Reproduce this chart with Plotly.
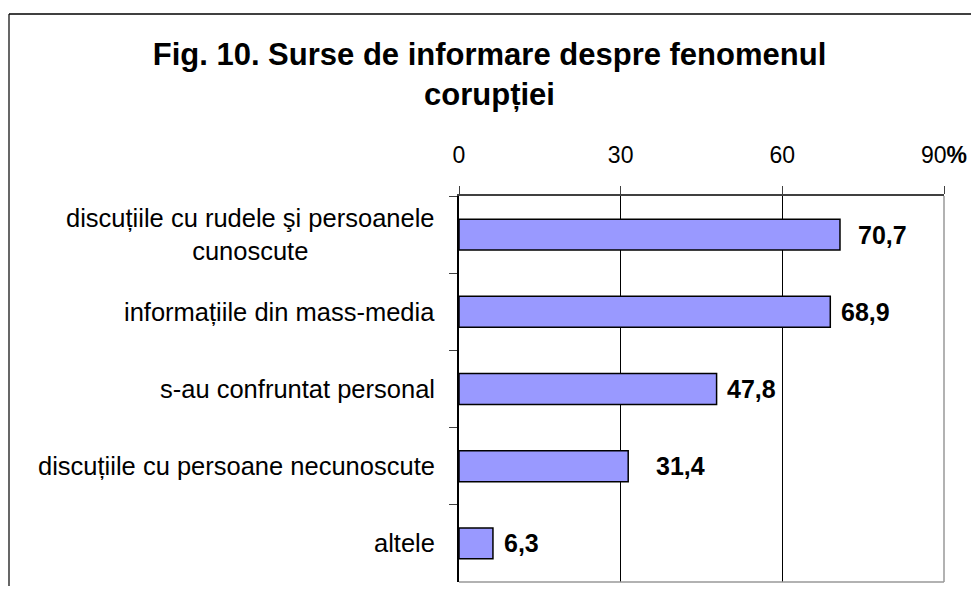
import plotly.graph_objects as go

categories = [
    "discuțiile cu rudele şi persoanele<br>cunoscute",
    "informațiile din mass-media",
    "s-au confruntat personal",
    "discuțiile cu persoane necunoscute",
    "altele",
]
values = [70.7, 68.9, 47.8, 31.4, 6.3]
value_labels = ["70,7", "68,9", "47,8", "31,4", "6,3"]
x_ticks = [0, 30, 60, 90]
x_tick_labels = ["0", "30", "60", "90<b>%</b>"]
title_text = "Fig. 10. Surse de informare despre fenomenul<br>corupției"

# page has an 8px body margin on every side; keep the figure inside the window
W, H = 963, 578
L, R, T, B = 451, 27, 188, 4
PW, PH = W - L - R, H - T - B
FONT = "Liberation Sans, Arial, sans-serif"


def px_x(p):
    return (p - L) / PW


def px_y(p):
    return (H - B - p) / PH


ids = list(range(len(categories)))

fig = go.Figure(
    go.Bar(
        x=values,
        y=ids,
        orientation="h",
        marker=dict(color="#9999FF", line=dict(color="black", width=1.5)),
        hoverinfo="skip",
    )
)

label_shift = [16, 9, 8, 26, 9]
annotations = []
for i, (v, t) in enumerate(zip(values, value_labels)):
    annotations.append(dict(
        x=v, y=i, xref="x", yref="y", text=t, showarrow=False,
        xanchor="left", xshift=label_shift[i],
        font=dict(family=FONT, size=25, color="black", weight="bold"),
    ))
for i, c in enumerate(categories):
    annotations.append(dict(
        x=0, y=i, xref="paper", yref="y", text=c, showarrow=False,
        xanchor="right", xshift=-22, align="center",
        font=dict(family=FONT, size=25.5, color="black"),
    ))

shapes = [
    # outer frame
    dict(type="line", xref="paper", yref="paper", x0=px_x(1), x1=px_x(W + 5),
         y0=px_y(6), y1=px_y(6), line=dict(color="#404040", width=2)),
    dict(type="line", xref="paper", yref="paper", x0=px_x(1), x1=px_x(1),
         y0=px_y(6), y1=px_y(H + 5), line=dict(color="black", width=1.2)),
    # plot-area right and bottom lines
    dict(type="line", xref="paper", yref="paper", x0=1, x1=1, y0=0, y1=1,
         line=dict(color="#999999", width=1.5), layer="above"),
    dict(type="line", xref="paper", yref="paper", x0=0, x1=1, y0=0, y1=0,
         line=dict(color="#999999", width=1.5), layer="above"),
]

fig.update_layout(
    width=W, height=H,
    margin=dict(l=L, r=R, t=T, b=B, pad=0),
    paper_bgcolor="white", plot_bgcolor="white",
    showlegend=False,
    bargap=0.6,
    title=dict(text=title_text, x=(489.5 - 8) / W, xanchor="center", y=1 - 57 / H, yanchor="middle",
               font=dict(family=FONT, size=31, color="black", weight="bold")),
    xaxis=dict(
        side="top", range=[0, 90], tickvals=x_ticks, ticktext=x_tick_labels,
        showgrid=True, gridcolor="black", gridwidth=1,
        showline=True, linecolor="#404040", linewidth=2,
        ticks="outside", ticklen=8, tickcolor="#404040", tickwidth=1,
        ticklabelstandoff=14,
        tickfont=dict(family=FONT, size=23, color="black"),
        zeroline=False, fixedrange=True,
    ),
    yaxis=dict(
        type="category", categoryorder="array", categoryarray=ids,
        autorange="reversed", range=[-0.5, len(ids) - 0.5],
        showticklabels=False, tickson="boundaries",
        showline=True, linecolor="black", linewidth=1.5,
        ticks="outside", ticklen=8, tickcolor="#404040", tickwidth=1,
        showgrid=False, zeroline=False, fixedrange=True,
    ),
    annotations=annotations,
    shapes=shapes,
)

fig.write_html("out.html")
